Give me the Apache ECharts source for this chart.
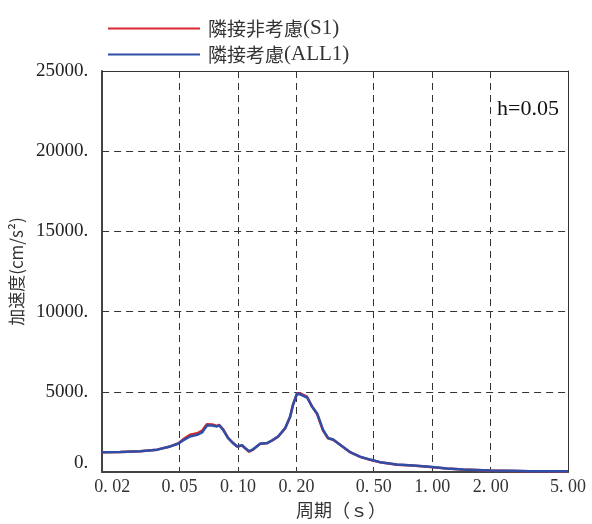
<!DOCTYPE html>
<html>
<head>
<meta charset="utf-8">
<script src="https://cdn.jsdelivr.net/npm/echarts@6/dist/echarts.min.js"></script>
<style>
html,body{margin:0;padding:0;background:#fff;}
#chart{width:592px;height:524px;}
</style>
</head>
<body>
<div id="chart"></div>
<script>
// ---- data ----
const periods = [0.020,0.0248,0.0314,0.0384,0.0448,0.0492,0.0522,0.0567,0.0617,0.0654,0.0678,0.0694,0.0736,0.0781,0.0800,0.0839,0.089,0.0944,0.099,0.105,0.1089,0.1141,0.1197,0.130,0.1413,0.150,0.161,0.1749,0.1856,0.192,0.2016,0.2089,0.227,0.241,0.2556,0.274,0.291,0.309,0.3356,0.3776,0.4254,0.4786,0.539,0.659,0.796,0.974,1.19,1.44,1.98,2.61,3.19,5.0];
const accS1 = [1235,1250,1300,1400,1600,1790,2040,2330,2420,2580,2850,2990,2970,2880,2950,2660,2130,1810,1590,1660,1480,1270,1400,1760,1800,1970,2210,2720,3440,4180,4920,4900,4700,4080,3620,2590,2110,2020,1700,1240,950,770,610,465,405,325,225,155,95,75,55,45];
const accALL1 = [1235,1250,1300,1400,1600,1770,1975,2220,2320,2470,2740,2900,2900,2840,2920,2630,2120,1810,1600,1670,1500,1300,1420,1770,1810,1975,2220,2740,3460,4200,4900,4850,4650,4070,3660,2650,2120,2030,1710,1250,960,780,620,470,410,330,230,160,100,80,60,50];
const seriesNames = ['隣接非考慮(S1)', '隣接考慮(ALL1)'];
const xTickValues = [0.02,0.05,0.1,0.2,0.5,1,2,5];
const xTickLabels = ['0. 02','0. 05','0. 10','0. 20','0. 50','1. 00','2. 00','5. 00'];
const yMin = 0, yMax = 25000, yStep = 5000;
const xName = '周期（ｓ）';
const yName = '加速度(cm/s²)';
const noteText = 'h=0.05';

// ---- chart ----
const lg = v => Math.log10(v);
const xTicksLog = xTickValues.map(lg);
function xLabel(v){
  let best = 0, d = Infinity;
  xTicksLog.forEach((t,i)=>{ const dd = Math.abs(t - v); if (dd < d){ d = dd; best = i; } });
  return best === 0 ? '{f|' + xTickLabels[best] + '}' : xTickLabels[best];
}
const chart = echarts.init(document.getElementById('chart'), null, {renderer:'canvas'});
const dashed = {color:'#333', type:[7,5], width:1};
const serif = '"Liberation Serif", "Times New Roman", serif';
const cjk = '"Noto Sans CJK JP", sans-serif';
function legendFmt(name){
  const i = name.indexOf('(');
  return '{c|' + name.slice(0,i) + '}{a|' + name.slice(i) + '}';
}
chart.setOption({
  animation:false,
  backgroundColor:'#fff',
  grid:{left:102, right:24, top:71, bottom:48},
  legend:{
    orient:'vertical', left:103, top:13, itemWidth:92, itemHeight:2, itemGap:5, icon:'rect',
    data:seriesNames, formatter:legendFmt,
    textStyle:{fontFamily:cjk, fontSize:19, lineHeight:21, color:'#333', padding:[0,0,0,3],
      rich:{c:{fontFamily:cjk, fontSize:19, color:'#333'}, a:{fontFamily:serif, fontSize:21, color:'#333'}}}
  },
  xAxis:[{
    type:'value', min:lg(0.02), max:lg(5),
    name:xName, nameLocation:'middle', nameGap:24,
    nameTextStyle:{fontFamily:cjk, fontSize:18, color:'#333', padding:[0,0,0,12]},
    axisLine:{show:true, onZero:false, lineStyle:{color:'#444', width:2}},
    axisTick:{show:false, customValues:xTicksLog},
    axisLabel:{customValues:xTicksLog, formatter:xLabel, fontFamily:serif, fontSize:18, color:'#333', margin:6,
      rich:{f:{fontFamily:serif, fontSize:18, color:'#333', padding:[0,0,0,20]}}},
    splitLine:{show:true, lineStyle:dashed}
  },{
    type:'value', position:'top', min:lg(0.02), max:lg(5),
    axisLine:{show:true, onZero:false, lineStyle:{color:'#333', width:1}},
    axisTick:{show:false}, axisLabel:{show:false}, splitLine:{show:false}
  }],
  yAxis:[{
    type:'value', min:yMin, max:yMax, interval:yStep,
    name:yName, nameLocation:'middle', nameGap:68, nameRotate:90,
    nameTextStyle:{fontFamily:cjk, fontSize:17, color:'#333'},
    axisLine:{show:true, onZero:false, lineStyle:{color:'#444', width:2}},
    axisTick:{show:false},
    axisLabel:{fontFamily:serif, fontSize:19, color:'#222', margin:14, verticalAlignMinLabel:'bottom',
      formatter: v => v + '.'},
    splitLine:{show:true, lineStyle:dashed}
  },{
    type:'value', position:'right', min:yMin, max:yMax, interval:yStep,
    axisLine:{show:true, onZero:false, lineStyle:{color:'#333', width:1}},
    axisTick:{show:false}, axisLabel:{show:false}, splitLine:{show:false}
  }],
  graphic:[{type:'text', left:497, top:98, style:{text:noteText, font:'22px "Liberation Serif"', fill:'#111'}}],
  series:[
    {name:seriesNames[0], type:'line', showSymbol:false, symbol:'none', color:'#d7282f',
     lineStyle:{width:2.5, color:'#d7282f'}, data:periods.map((p,i)=>[lg(p), accS1[i]]), z:2},
    {name:seriesNames[1], type:'line', showSymbol:false, symbol:'none', color:'#2f4ea8',
     lineStyle:{width:2.5, color:'#2f4ea8'}, data:periods.map((p,i)=>[lg(p), accALL1[i]]), z:3}
  ]
});
</script>
</body>
</html>
